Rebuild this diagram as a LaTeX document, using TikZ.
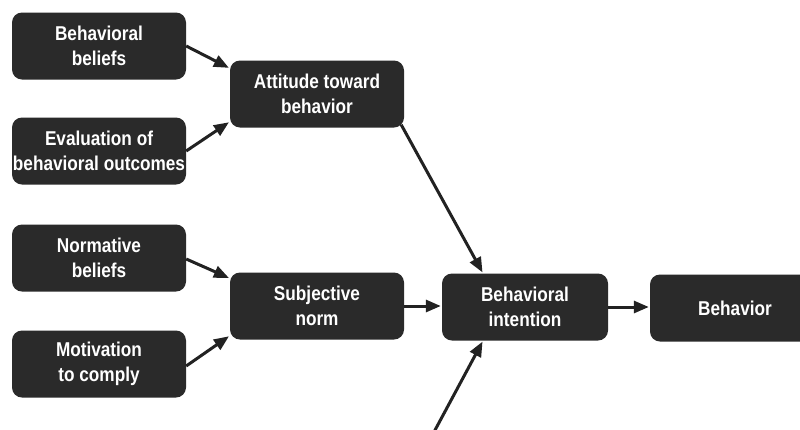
\documentclass[tikz,border=0pt]{standalone}
\usepackage{fontspec}
\setmainfont{Liberation Sans}[FakeStretch=0.86]
\usetikzlibrary{arrows.meta}
\definecolor{boxfill}{HTML}{2A2A2A}
\definecolor{inkline}{HTML}{222222}
\tikzset{
  x=1pt, y=-1pt,
  tpbbox/.style={fill=boxfill, rounded corners=10pt, text=white,
    font=\bfseries\fontsize{20}{24.5}\selectfont, align=center,
    inner sep=0pt, minimum width=174pt, minimum height=67pt},
  link/.style={draw=inkline, line width=3pt,
    -{Triangle[length=15pt,width=12pt]}, shorten >=1pt}
}
\begin{document}
\begin{tikzpicture}
  \clip (0,0) rectangle (800,429);
  \fill[white] (0,0) rectangle (800,429);

  % belief and evaluation inputs
  \node[tpbbox] (bb)  at (99,46)  {Behavioral\\beliefs};
  \node[tpbbox] (ev)  at (99,151) {Evaluation of\\behavioral outcomes};
  \node[tpbbox] (nb)  at (99,258) {Normative\\beliefs};
  \node[tpbbox] (mc)  at (99,364) {Motivation\\to comply};

  % intermediate constructs
  \node[tpbbox] (att) at (317,94)  {Attitude toward\\behavior};
  \node[tpbbox] (sn)  at (317,306) {Subjective\\norm};

  % intention and behavior
  \node[tpbbox, minimum width=166pt] (bi)  at (525,307) {Behavioral\\intention};
  \node[tpbbox, minimum width=170pt] (beh) at (735,308) {Behavior};

  \coordinate (pbc) at (434,432);

  % connectors
  \draw[link] (bb.east) -- ([yshift=-8pt]att.north west);
  \draw[link] (ev.east) -- ([yshift=6pt]att.south west);
  \draw[link] ([xshift=-3pt,yshift=3pt]att.south east) -- ([xshift=-42pt]bi.north);
  \draw[link] ([yshift=-1pt]nb.east) -- ([yshift=-6pt]sn.north west);
  \draw[link] ([yshift=-2pt]mc.east) -- ([yshift=4pt]sn.south west);
  \draw[link] (sn.east) -- (sn.east -| bi.west);
  \draw[link] (bi.east) -- (bi.east -| beh.west);
  \draw[link] (pbc) -- ([xshift=-42pt]bi.south);
\end{tikzpicture}
\end{document}
